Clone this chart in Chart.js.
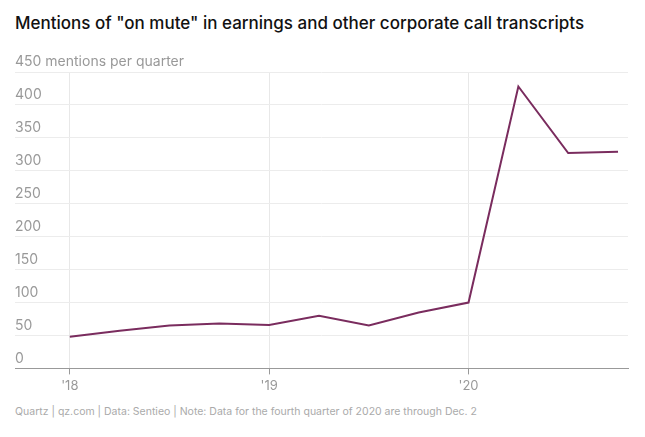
<!DOCTYPE html>
<html><head><meta charset="utf-8">
<script src="https://cdn.jsdelivr.net/npm/chart.js@4"></script>
<style>
body{margin:0;background:#fff;font-family:Inter,"Noto Sans",sans-serif;}
#wrap{position:relative;width:645px;height:437px;}
h1{position:absolute;left:15px;top:13px;margin:0;font-size:17px;font-weight:500;color:#111;}
#foot{position:absolute;left:15px;top:405px;font-size:10.5px;color:#aaa;}
#c{position:absolute;left:0;top:50px;}
</style></head><body>
<div id="wrap">
<h1>Mentions of "on mute" in earnings and other corporate call transcripts</h1>
<canvas id="c" width="645" height="348"></canvas>
<div id="foot">Quartz | qz.com | Data: Sentieo | Note: Data for the fourth quarter of 2020 are through Dec. 2</div>
</div>
<script>
const quarters=['2018Q1','2018Q2','2018Q3','2018Q4','2019Q1','2019Q2','2019Q3','2019Q4','2020Q1','2020Q2','2020Q3','2020Q4'];
const mentions=[48,57,65,68,66,80,65,85,100,428,327,329];
const yearLabels={0:"'18",4:"'19",8:"'20"};
const yTicks=[0,50,100,150,200,250,300,350,400,450];

new Chart(document.getElementById('c'),{
  type:'line',
  data:{datasets:[{data:mentions.map((v,i)=>({x:i,y:v})),borderColor:'#7a2c5e',borderWidth:2,pointRadius:0,tension:0}]},
  options:{
    responsive:false,animation:false,
    layout:{padding:{left:15,right:17,top:22,bottom:0}},
    plugins:{legend:{display:false},tooltip:{enabled:false}},
    scales:{
      x:{type:'linear',min:-1.1,max:11.2,
        afterBuildTicks:a=>{a.ticks=[0,4,8].map(v=>({value:v}));},
        grid:{color:'#e8e8e8',drawTicks:true,tickLength:6,tickColor:'#999'},
        border:{color:'#999'},
        ticks:{callback:v=>yearLabels[v],color:'#999',font:{family:'Inter',size:13},padding:4}},
      y:{min:0,max:450,
        afterBuildTicks:a=>{a.ticks=yTicks.map(v=>({value:v}));},
        grid:{color:'#ececec',drawTicks:false},
        border:{display:false},
        ticks:{mirror:true,padding:0,labelOffset:-10,color:'#999',font:{family:'Inter',size:14},
          callback:v=>v===450?'450 mentions per quarter':v}}
    }
  }
});
</script>
</body></html>
